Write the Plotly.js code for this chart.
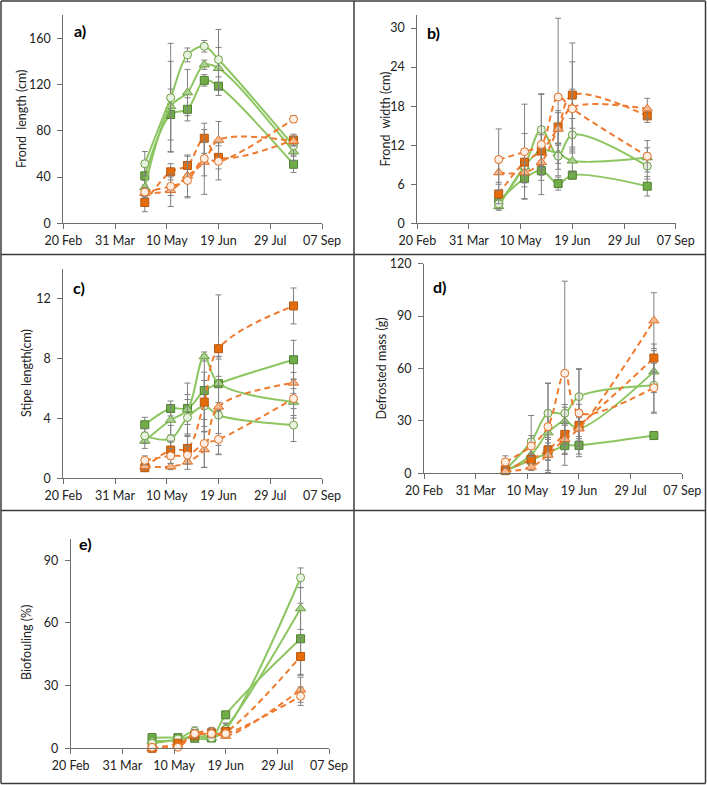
<!DOCTYPE html>
<html>
<head>
<meta charset="utf-8">
<script src="https://cdn.plot.ly/plotly-3.0.1.min.js"></script>
<style>
html,body{margin:0;padding:0;background:#fff;}
#chart{width:707px;height:785px;}
</style>
</head>
<body>
<div id="chart"></div>
<script>
// ---------- DATA ----------
const sampleDates = ['2020-04-23','2020-05-13','2020-05-26','2020-06-08','2020-06-19','2020-08-16'];
const seriesNames = ['Green square','Green triangle','Green circle','Orange square','Orange triangle','Orange circle'];

// a) Frond length (cm)
const lenGS = [41, 94, 98.5, 123.5, 118.5, 51];     const lenGSerr = [8, 22, 10, 5, 8, 7];
const lenGT = [31, 101, 113, 137, 134, 62];         const lenGTerr = [6, 39, 20, 4, 18, 8];
const lenGC = [51.5, 108.5, 145.5, 153, 141.5, 67]; const lenGCerr = [10.5, 47, 6, 5, 26, 8];
const lenOS = [18, 44.5, 50, 73.5, 57, 72];         const lenOSerr = [8, 7, 8, 13, 10, 5];
const lenOT = [26, 28.5, 41, 53, 72, 71];           const lenOTerr = [4, 14, 18, 28, 16, 4];
const lenOC = [27, 32, 37, 56, 53.5, 90];           const lenOCerr = [4, 8, 15, 15, 16, 3];

// b) Frond width (cm)
const widGS = [3.4, 6.9, 8.1, 6.1, 7.4, 5.7];       const widGSerr = [0.8, 1.3, 1.5, 1.0, 0.6, 1.5];
const widGT = [2.6, 8.7, 11.2, 10.7, 9.6, 10.1];    const widGTerr = [0.6, 2.5, 3.0, 1.5, 1.8, 1.5];
const widGC = [3.0, 8.8, 14.4, 10.3, 13.6, 8.8];    const widGCerr = [0.8, 5.0, 5.5, 2.0, 2.5, 2.0];
const widOS = [4.5, 9.4, 11.1, 14.8, 19.7, 16.5];   const widOSerr = [1.5, 2.0, 2.5, 2.5, 8.0, 1.0];
const widOT = [7.8, 7.8, 9.4, 14.5, 17.8, 17.6];    const widOTerr = [1.5, 1.5, 2.0, 2.5, 7.0, 1.6];
const widOC = [9.8, 11.0, 12.1, 19.4, 17.6, 10.3];  const widOCerr = [4.7, 7.3, 7.7, 12.1, 3.0, 2.4];

// c) Stipe length (cm)
const stiGS = [3.58, 4.67, 4.67, 5.87, 6.33, 7.93]; const stiGSerr = [0.5, 0.5, 1.7, 2.4, 1.8, 1.3];
const stiGT = [2.5, 3.9, 4.6, 8.15, 6.36, 5.1];     const stiGTerr = [0.5, 1.0, 1.0, 0.3, 1.8, 0.9];
const stiGC = [2.84, 2.64, 4.07, 4.84, 4.22, 3.56]; const stiGCerr = [0.5, 0.9, 1.2, 1.7, 2.6, 1.1];
const stiOS = [0.71, 1.89, 2.0, 5.1, 8.67, 11.53];  const stiOSerr = [0.2, 0.6, 0.8, 2.0, 3.6, 1.2];
const stiOT = [0.8, 0.78, 1.1, 1.93, 4.78, 6.38];   const stiOTerr = [0.2, 0.2, 0.5, 1.2, 3.2, 0.7];
const stiOC = [1.2, 1.5, 1.55, 2.33, 2.6, 5.33];    const stiOCerr = [0.3, 0.5, 0.6, 1.6, 0.4, 1.3];

// d) Defrosted mass (g)
const masGS = [1.5, 7.6, 11.6, 15.8, 16, 21.6];     const masGSerr = [0.8, 3, 4, 5, 5, 1];
const masGT = [1.3, 10.5, 23.3, 29.8, 25.8, 58.2];  const masGTerr = [1, 5, 12, 8, 6, 12];
const masGC = [2, 18.1, 34.4, 34.4, 43.9, 50.4];    const masGCerr = [2, 15, 17, 5, 16, 16];
const masOS = [2, 8, 13.4, 22.3, 27.5, 66];         const masOSerr = [1, 3, 6, 6, 12, 8];
const masOT = [1, 3.6, 10.5, 19.5, 25.5, 87.4];     const masOTerr = [1, 2, 10, 8, 7, 16];
const masOC = [6.5, 15.6, 26.7, 57.3, 34.5, 49];    const masOCerr = [3.5, 6, 25, 52.7, 25, 14];

// e) Biofouling (%)
const bioGS = [5.1, 5.1, 4.8, 4.9, 16, 52.4];       const bioGSerr = [0.5, 0.5, 0.8, 0.8, 1.5, 17];
const bioGT = [3.5, 4, 6, 5, 10, 66.9];             const bioGTerr = [0.5, 0.5, 1, 1, 2, 10];
const bioGC = [2.4, 4.5, 8.2, 5, 9, 81.6];          const bioGCerr = [0.5, 0.5, 2, 1, 3, 4.7];
const bioOS = [0, 2.4, 6, 7.4, 8, 43.9];            const bioOSerr = [0.3, 0.5, 1, 2, 1, 9];
const bioOT = [0, 1, 7, 8, 5.9, 28];                const bioOTerr = [0.3, 0.3, 2, 2, 1, 6];
const bioOC = [0.5, 0.5, 7, 7, 7, 24.9];            const bioOCerr = [0.3, 0.3, 2, 2, 1, 4.4];

const panelLabels = ['a)', 'b)', 'c)', 'd)', 'e)'];
const yTitles = ['Frond  length (cm)', 'Frond  width (cm)', 'Stipe length(cm)', 'Defrosted mass (g)', 'Biofouling (%)'];

// ---------- STYLE ----------
const W = 707, H = 785;
const FONT = 'Lato, "Open Sans", sans-serif';
const GREEN_LINE = '#8DC661', ORANGE_LINE = '#EE7B30';
const styles = [
  {line: GREEN_LINE, dash: 'solid', symbol: 'square', fill: '#70AD47', edge: '#507E32', size: 8},
  {line: GREEN_LINE, dash: 'solid', symbol: 'triangle-up', fill: '#A9D18E', edge: '#6E9F45', size: 9},
  {line: GREEN_LINE, dash: 'solid', symbol: 'circle', fill: '#E8F3DF', edge: '#6E9F45', size: 8},
  {line: ORANGE_LINE, dash: '6px,4px', symbol: 'square', fill: '#E46C0A', edge: '#B8570F', size: 8},
  {line: ORANGE_LINE, dash: '6px,4px', symbol: 'triangle-up', fill: '#F6B98F', edge: '#E06F24', size: 9},
  {line: ORANGE_LINE, dash: '6px,4px', symbol: 'circle', fill: '#FDEEE4', edge: '#E06F24', size: 8}
];

const panels = [
  {vals: [lenGS, lenGT, lenGC, lenOS, lenOT, lenOC], errs: [lenGSerr, lenGTerr, lenGCerr, lenOSerr, lenOTerr, lenOCerr], yr: [0, 180], dt: 40,
   px: [63.3, 322], py: [15, 223.3], title: [22, 119], lab: [72, 31]},
  {vals: [widGS, widGT, widGC, widOS, widOT, widOC], errs: [widGSerr, widGTerr, widGCerr, widOSerr, widOTerr, widOCerr], yr: [0, 32], dt: 6,
   px: [417.3, 675.7], py: [15, 223.3], title: [385.5, 119], lab: [425, 33]},
  {vals: [stiGS, stiGT, stiGC, stiOS, stiOT, stiOC], errs: [stiGSerr, stiGTerr, stiGCerr, stiOSerr, stiOTerr, stiOCerr], yr: [0, 14], dt: 4,
   px: [63.3, 322], py: [269, 478.3], title: [26, 373], lab: [71, 288]},
  {vals: [masGS, masGT, masGC, masOS, masOT, masOC], errs: [masGSerr, masGTerr, masGCerr, masOSerr, masOTerr, masOCerr], yr: [0, 120], dt: 30,
   px: [424, 682.3], py: [263.7, 473.3], title: [380.5, 369], lab: [431, 287]},
  {vals: [bioGS, bioGT, bioGC, bioOS, bioOT, bioOC], errs: [bioGSerr, bioGTerr, bioGCerr, bioOSerr, bioOTerr, bioOCerr], yr: [0, 100], dt: 30,
   px: [70.7, 329], py: [539.3, 748.3], title: [26, 643], lab: [77, 543]}
];

const fx = p => p / W;
const fy = p => 1 - p / H;

const traces = [];
const layout = {
  width: W, height: H,
  margin: {l: 0, r: 0, t: 0, b: 0},
  paper_bgcolor: '#ffffff', plot_bgcolor: 'rgba(0,0,0,0)',
  showlegend: false,
  font: {family: FONT, size: 11, color: '#404040'},
  annotations: [], shapes: []
};

panels.forEach((p, i) => {
  const n = i + 1;
  const xa = n === 1 ? 'x' : 'x' + n, ya = n === 1 ? 'y' : 'y' + n;
  const xk = n === 1 ? 'xaxis' : 'xaxis' + n, yk = n === 1 ? 'yaxis' : 'yaxis' + n;
  layout[xk] = {
    type: 'date', domain: [fx(p.px[0]), fx(p.px[1])], anchor: ya,
    range: ['2020-02-20', '2020-09-07'],
    tick0: '2020-02-20', dtick: 40 * 86400000, tickformat: '%d %b',
    showline: true, linecolor: '#6e6e6e', linewidth: 1,
    ticks: 'outside', ticklen: 5, tickcolor: '#6e6e6e', ticklabelstandoff: 1,
    showgrid: false, zeroline: false, fixedrange: true,
    tickfont: {family: FONT, size: 12.5, color: '#222222'}
  };
  layout[yk] = {
    domain: [fy(p.py[1]), fy(p.py[0])], anchor: xa,
    range: p.yr, dtick: p.dt, tick0: 0,
    showline: true, linecolor: '#6e6e6e', linewidth: 1,
    ticks: 'outside', ticklen: 5, tickcolor: '#6e6e6e', ticklabelstandoff: 4,
    showgrid: false, zeroline: false, fixedrange: true,
    tickfont: {family: FONT, size: 12.5, color: '#222222'}
  };
  p.vals.forEach((v, s) => {
    const st = styles[s];
    traces.push({
      type: 'scatter', mode: 'lines+markers', name: seriesNames[s],
      x: sampleDates, y: v, xaxis: xa, yaxis: ya,
      line: {color: st.line, width: 2, dash: st.dash, shape: 'spline', smoothing: 1},
      marker: {symbol: st.symbol, size: st.size, color: st.fill, line: {color: st.edge, width: 1}},
      error_y: {type: 'data', array: p.errs[s], visible: true, color: '#808080', thickness: 1, width: 3},
      cliponaxis: false
    });
  });
  layout.annotations.push({
    xref: 'paper', yref: 'paper', x: fx(p.title[0]), y: fy(p.title[1]),
    xanchor: 'center', yanchor: 'middle', textangle: -90, showarrow: false,
    text: yTitles[i], font: {family: FONT, size: 12.5, color: '#222222'}
  });
  layout.annotations.push({
    xref: 'paper', yref: 'paper', x: fx(p.lab[0]), y: fy(p.lab[1]),
    xanchor: 'left', yanchor: 'middle', showarrow: false,
    text: '<b>' + panelLabels[i] + '</b>', font: {family: FONT, size: 16, color: '#000000'}
  });
});

// cell borders
const bc = '#3c3c3c';
const border = (x0, y0, x1, y1) => ({type: 'line', xref: 'paper', yref: 'paper', x0: fx(x0), y0: fy(y0), x1: fx(x1), y1: fy(y1), line: {color: bc, width: 1.5}});
layout.shapes.push(border(1, 1, 705.5, 1));
layout.shapes.push(border(1, 783.5, 705.5, 783.5));
layout.shapes.push(border(1, 1, 1, 783.5));
layout.shapes.push(border(705.5, 1, 705.5, 783.5));
layout.shapes.push(border(354, 1, 354, 783.5));
layout.shapes.push(border(1, 254.5, 705.5, 254.5));
layout.shapes.push(border(1, 510.5, 705.5, 510.5));

Plotly.newPlot('chart', traces, layout, {staticPlot: true, displayModeBar: false});
</script>
</body>
</html>
